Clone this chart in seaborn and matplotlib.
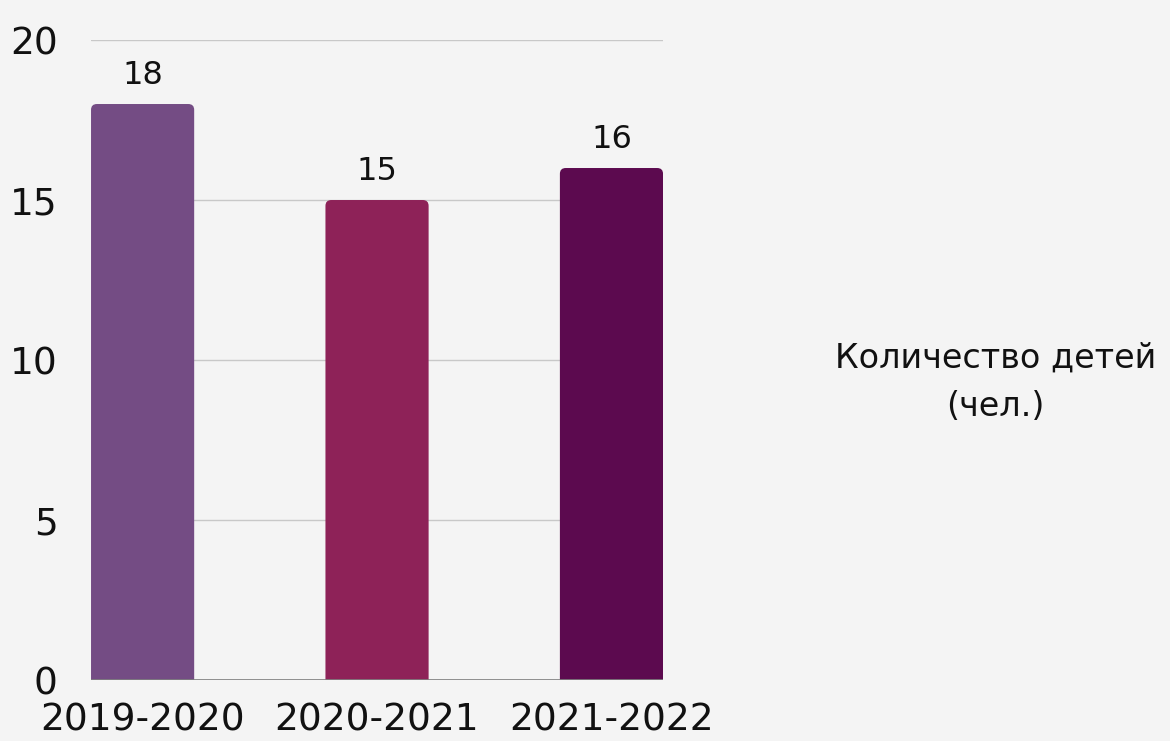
import seaborn as sns
import matplotlib.pyplot as plt
import pandas as pd
from matplotlib.patches import FancyBboxPatch

# data
years = ["2019-2020", "2020-2021", "2021-2022"]
children = [18, 15, 16]
bar_colors = ["#744C84", "#8E2258", "#5C0A4F"]
legend_label = "Количество детей\n(чел.)"

df = pd.DataFrame({"year": years, "count": children})

sns.set_theme(style="white")
plt.rcParams["font.family"] = ["DejaVu Sans"]

bg = "#f4f4f4"
fig = plt.figure(figsize=(11.7, 7.41), dpi=100, facecolor=bg)
ax = fig.add_axes([0.0778, 0.0823, 0.4889, 0.8637])
ax.set_facecolor(bg)

sns.barplot(data=df, x="year", y="count", hue="year", palette=bar_colors,
            width=0.44, legend=False, ax=ax, saturation=1, zorder=3)

ax.set_xlim(-0.22, 2.22)
ax.set_ylim(0, 20)

# swap the plain bars for ones with slightly rounded top corners
for p in list(ax.patches):
    x, w, h = p.get_x(), p.get_width(), p.get_height()
    c = p.get_facecolor()
    p.set_visible(False)
    ax.add_patch(FancyBboxPatch((x, -1), w, h + 1,
                                boxstyle="round,pad=0,rounding_size=0.025",
                                mutation_aspect=7.3, facecolor=c,
                                edgecolor="none", zorder=3))

for i, v in enumerate(children):
    ax.text(i, v + 0.4, str(v), ha="center", va="bottom",
            fontsize=23, color="#111111")

ax.set_yticks([0, 5, 10, 15, 20])
ax.yaxis.grid(True, color="#c8c8c8", linewidth=1, zorder=0)
ax.axhline(0, color="#808080", linewidth=1.2, zorder=4)
for s in ax.spines.values():
    s.set_visible(False)

ax.tick_params(axis="y", length=0, pad=24, labelsize=27, labelcolor="#111111")
ax.tick_params(axis="x", length=0, pad=16, labelsize=27, labelcolor="#111111")
ax.set_xlabel("")
ax.set_ylabel("")

fig.text(0.851, 0.4845, legend_label, ha="center", va="center",
         fontsize=24, color="#111111", linespacing=1.6)

fig.savefig("out.png", dpi=100, facecolor=bg)
